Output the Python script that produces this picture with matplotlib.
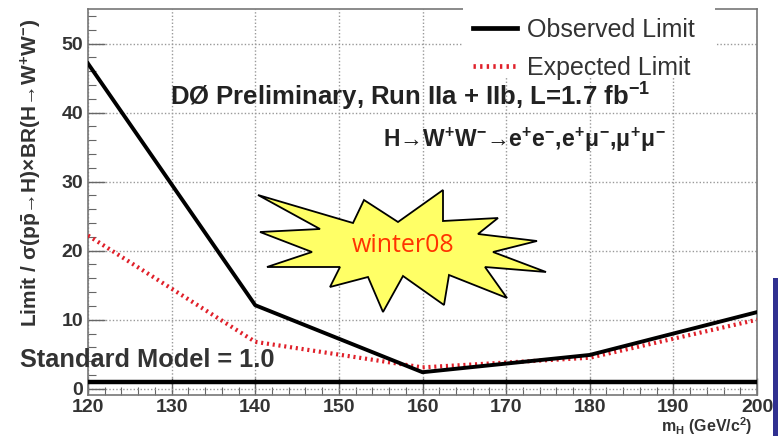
import matplotlib
matplotlib.use('Agg')
import matplotlib.pyplot as plt
from matplotlib.patches import Polygon, Rectangle
from matplotlib.lines import Line2D

plt.rcParams['font.family'] = ['Liberation Sans', 'DejaVu Sans']
plt.rcParams['mathtext.fontset'] = 'custom'
plt.rcParams['mathtext.rm'] = 'Liberation Sans:bold'
plt.rcParams['mathtext.it'] = 'Liberation Sans:bold'
plt.rcParams['mathtext.bf'] = 'Liberation Sans:bold'

# Higgs mass points (GeV/c^2) and limits
mass = [120, 140, 160, 180, 200]
observed = [47.1, 12.1, 2.4, 4.9, 11.1]
expected = [22.2, 6.8, 3.1, 4.5, 10.0]
sm_level = 1.0

xticks = [120, 130, 140, 150, 160, 170, 180, 190, 200]
yticks = [0, 10, 20, 30, 40, 50]

fig = plt.figure(figsize=(7.78, 4.36), dpi=100)
ax = fig.add_axes([88/778, 1-395/436, (757-88)/778, (395-9)/436])

ax.plot(mass, observed, color='black', lw=2.8, label='Observed Limit', zorder=4)
ax.plot(mass, expected, color='#e0202a', lw=3, ls=(0, (0.5, 0.9)), label='Expected Limit', zorder=3)
ax.axhline(sm_level, color='black', lw=3.2, zorder=4)

ax.set_xlim(120, 200)
ax.set_ylim(-0.9, 55)
ax.set_xticks(xticks)
ax.set_yticks(yticks)
ax.set_xticks(range(120, 201, 2), minor=True)
ax.set_yticks(range(0, 55, 2), minor=True)
ax.tick_params(which='both', direction='in', colors='#666666', labelcolor='#333333')
ax.tick_params(which='major', length=12, width=1)
ax.tick_params(which='minor', length=6, width=0.8)
ax.tick_params(axis='x', pad=3)
for lab in ax.get_xticklabels() + ax.get_yticklabels():
    lab.set_fontweight('bold')
    lab.set_fontsize(14)
ax.grid(True, which='major', color='#999999', ls=(0, (1, 1.5)), lw=1)
for s in ax.spines.values():
    s.set_color('#777777')
    s.set_linewidth(1.2)

ax.set_ylabel(r'Limit / $\sigma$(p$\bar{\mathrm{p}}$→H)×BR(H→W$^{+}$W$^{-}$)',
              fontsize=15, fontweight='bold', color='#333333')
ax.yaxis.set_label_coords(-0.066, 0.575)
fig.text(752/778, 1-426/436, r'm$_{\rm H}$ (GeV/c$^{2}$)', ha='right', va='center',
         fontsize=11.5, fontweight='bold', color='#333333')

# annotations
fig.text(170/778, 1-97/436, r'DØ Preliminary, Run IIa + IIb, L=1.7 fb$^{-1}$',
         fontsize=18.5, fontweight='bold', color='#222222', va='center')
fig.text(383/778, 1-140/436,
         r'H→W$^{+}$W$^{-}$→e$^{+}$e$^{-}$,e$^{+}\mu^{-}$,$\mu^{+}\mu^{-}$',
         fontsize=16.5, fontweight='bold', color='#222222', va='center')
fig.text(20/778, 1-360/436, 'Standard Model = 1.0', fontsize=18.3, fontweight='bold',
         color='#333333', va='center')

# white box of the legend, hiding grid and top spine
fig.patches.append(Rectangle((463/778, 1-77/436), (715-463)/778, 77/436, transform=fig.transFigure,
                             facecolor='white', edgecolor='none', zorder=5))
handles = [Line2D([], [], color='black', lw=3.4),
           Line2D([], [], color='#e0202a', lw=3.4, ls=(0, (0.5, 0.9)))]
leg = fig.legend(handles, ['Observed Limit', 'Expected Limit'], loc='upper left',
                 bbox_to_anchor=(473/778, 1-18/436), fontsize=18, frameon=False,
                 handlelength=1.75, handletextpad=0.4, labelspacing=0.55,
                 borderpad=0, borderaxespad=0)
leg.set_zorder(6)
for t in leg.get_texts():
    t.set_color('#333333')

# "winter08" starburst
star_px = [(258, 195), (320, 229), (260, 232), (312, 252), (267, 267), (340, 267),
           (330, 287), (368, 277), (383, 312), (403, 276), (444, 305), (449, 275),
           (507, 298), (485, 267), (546, 272), (493, 252), (537, 241), (478, 234),
           (498, 218), (443, 221), (443, 190), (398, 222), (364, 200), (353, 223)]
star = Polygon([(x/778, 1-y/436) for x, y in star_px], closed=True,
               transform=fig.transFigure, facecolor='#ffff66', edgecolor='black', lw=1.3, zorder=10)
fig.patches.append(star)
fig.text(403/778, 1-245/436, 'winter08', fontsize=18, color='#ff3300', ha='center', va='center',
         family=['Open Sans', 'DejaVu Sans'], zorder=11)

# blue side bar
fig.patches.append(Rectangle((773/778, 0), 5/778, 1-278/436, transform=fig.transFigure,
                             facecolor='#303090', edgecolor='none'))

fig.savefig('out.png', dpi=100)
